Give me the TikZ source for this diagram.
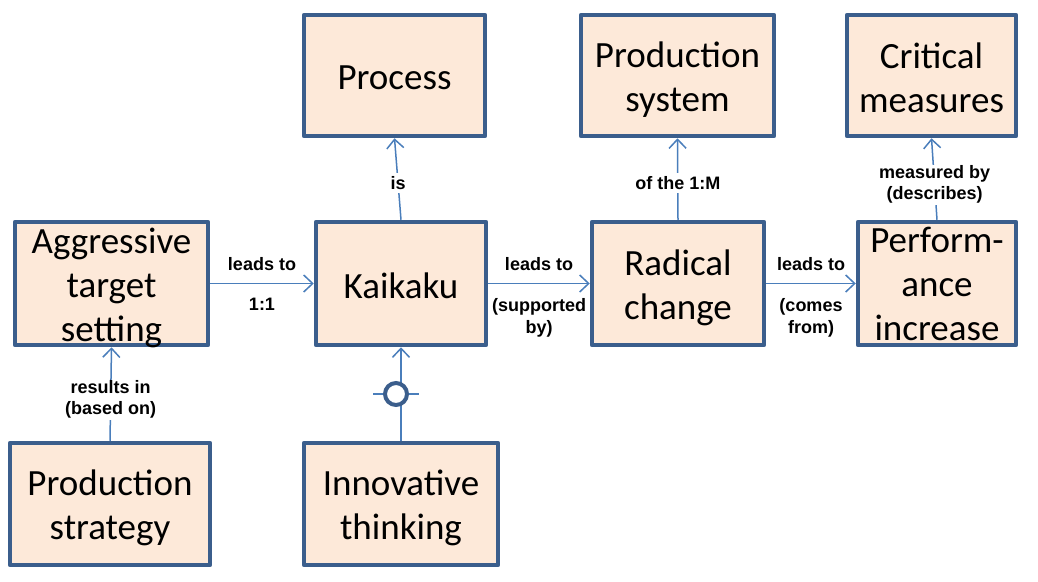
\documentclass[tikz,border=0pt]{standalone}
\usepackage{fontspec}
\setmainfont{Carlito}
\newfontfamily\lblfont{Liberation Sans}
\usetikzlibrary{arrows.meta}
\definecolor{boxfill}{RGB}{253,233,217}
\definecolor{boxline}{RGB}{59,94,140}
\definecolor{conncol}{RGB}{74,126,187}
\tikzset{
  box/.style={draw=boxline, fill=boxfill, line width=4.5pt, line join=round, inner sep=0pt},
  boxtxt/.style={align=center, font=\fontsize{37}{44}\selectfont, inner sep=0pt, yshift=-4pt},
  conn/.style={draw=conncol, line width=1.5pt,
    -{Straight Barb[length=9pt,width=17pt,line width=1.5pt]}},
  lbl/.style={font=\lblfont\bfseries\fontsize{18}{22}\selectfont, align=center,
    text=black, inner sep=2pt},
  lblw/.style={lbl, fill=white, inner sep=3pt},
}
\begin{document}
\begin{tikzpicture}[x=1pt,y=-1pt]
\useasboundingbox (0,0) rectangle (1038,581);
% top row
\node[box, minimum width=181pt, minimum height=121pt,
  label={[boxtxt, yshift=2pt, name=proc-t]center:Process}] (proc) at (394.5,75.5) {};
\node[box, minimum width=193pt, minimum height=121pt,
  label={[boxtxt, name=psys-t]center:{Production\\system}}] (psys) at (677.5,75.5) {};
\node[box, minimum width=169pt, minimum height=121pt,
  label={[boxtxt, yshift=2pt, name=crit-t]center:{Critical\\measures}}] (crit) at (931.5,75.5) {};
% middle row
\node[box, minimum width=193pt, minimum height=123pt,
  label={[boxtxt, name=aggr-t]center:{Aggressive\\target\\setting}}] (aggr) at (111.5,283.5) {};
\node[box, minimum width=170pt, minimum height=123pt,
  label={[boxtxt, yshift=2pt, name=kai-t]center:Kaikaku}] (kai) at (401,283.5) {};
\node[box, minimum width=172pt, minimum height=123pt,
  label={[boxtxt, name=rad-t]center:{Radical\\change}}] (rad) at (678,283.5) {};
\node[box, minimum width=158pt, minimum height=123pt,
  label={[boxtxt, yshift=4pt, name=perf-t]center:{Perform-\\ance\\increase}}] (perf) at (937,283.5) {};
% bottom row
\node[box, minimum width=200pt, minimum height=122pt,
  label={[boxtxt, name=pstr-t]center:{Production\\strategy}}] (pstr) at (110,504) {};
\node[box, minimum width=194pt, minimum height=122pt,
  label={[boxtxt, name=innov-t]center:{Innovative\\thinking}}] (innov) at (401,504) {};
% horizontal connectors
\draw[conn] (aggr.east) -- node[lbl, above=10pt]{leads to} node[lbl, below=12pt]{1:1} (kai.west);
\draw[conn] (kai.east) -- node[lbl, above=10pt]{leads to} node[lbl, below=12pt]{(supported\\by)} (rad.west);
\draw[conn] (rad.east) -- node[lbl, above=10pt]{leads to} node[lbl, below=12pt]{(comes\\from)} (perf.west);
% vertical connectors
\draw[conn] (kai.north) -- node[lblw, pos=0.45]{is} (proc.south);
\draw[conn] (rad.north) -- node[lblw, pos=0.45]{of the 1:M} (psys.south);
\draw[conn] (perf.north) -- node[lblw, pos=0.43, inner sep=1pt, font=\lblfont\bfseries\fontsize{18}{21}\selectfont]{measured by\\(describes)} (crit.south);
\draw[conn] (pstr.north) -- node[lblw, pos=0.44, inner sep=1pt, font=\lblfont\bfseries\fontsize{18}{21}\selectfont]{results in\\(based on)} (aggr.south);
% innovative thinking with circle symbol
\draw[conn] (innov.north) -- coordinate[pos=0.5] (circ) (kai.south);
\coordinate (tl) at ([xshift=-28pt]circ);
\coordinate (tr) at ([xshift=18pt]circ);
\draw[draw=conncol, line width=2pt] (tl) -- (tr);
\node[circle, draw=boxline, fill=white, line width=4pt, minimum size=22pt, inner sep=0pt] (ring) at ([xshift=-5pt]circ) {};
\end{tikzpicture}
\end{document}
